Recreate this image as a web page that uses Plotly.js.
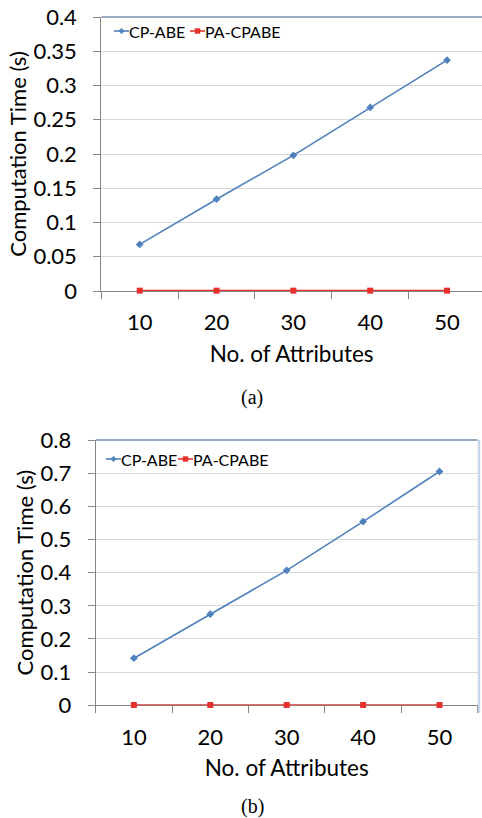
<!DOCTYPE html>
<html><head><meta charset="utf-8">
<script src="https://cdn.plot.ly/plotly-3.0.1.min.js"></script>
<style>html,body{margin:0;padding:0;background:#fff}#chart{width:482px;height:818px}</style>
</head><body><div id="chart"></div>
<script>
// ---- data ----
const attributes = ['10', '20', '30', '40', '50'];
const seriesNames = ['CP-ABE', 'PA-CPABE'];
const cpabeA = [0.068, 0.134, 0.198, 0.268, 0.337];
const pacpabeA = [0.0005, 0.0005, 0.0005, 0.0005, 0.0005];
const cpabeB = [0.142, 0.275, 0.407, 0.554, 0.705];
const pacpabeB = [0.001, 0.001, 0.001, 0.001, 0.001];
const yTicksA = [0, 0.05, 0.1, 0.15, 0.2, 0.25, 0.3, 0.35, 0.4];
const yTickTextA = ['0', '0.05', '0.1', '0.15', '0.2', '0.25', '0.3', '0.35', '0.4'];
const yTicksB = [0, 0.1, 0.2, 0.3, 0.4, 0.5, 0.6, 0.7, 0.8];
const yTickTextB = ['0', '0.1', '0.2', '0.3', '0.4', '0.5', '0.6', '0.7', '0.8'];
const captions = ['(a)', '(b)'];
const xTitle = 'No. of Attributes';
const yTitle = 'Computation Time (s)';

// ---- styles ----
const W = 482, H = 818;
const BLUE = '#4f81bd', RED = '#e5302b';
const FONT = 'Lato, Carlito, "Open Sans", sans-serif';
const px = x => x / W, py = y => 1 - y / H;

function line(x, y, name, color, symbol, size, xa, ya) {
  return {
    type: 'scatter', mode: 'lines+markers', x: x, y: y, name: name,
    xaxis: xa, yaxis: ya, cliponaxis: false, showlegend: false,
    line: {color: color, width: 1.6},
    marker: {color: color, symbol: symbol, size: size}
  };
}

const data = [
  line(attributes, cpabeA, seriesNames[0], BLUE, 'diamond', 6, 'x', 'y'),
  line(attributes, pacpabeA, seriesNames[1], RED, 'square', 6, 'x', 'y'),
  line(attributes, cpabeB, seriesNames[0], BLUE, 'diamond', 6, 'x2', 'y2'),
  line(attributes, pacpabeB, seriesNames[1], RED, 'square', 6, 'x2', 'y2')
];

function xaxis(domain, range) {
  return {
    type: 'category', domain: domain, range: range,
    showline: true, linecolor: '#868686', linewidth: 1, layer: 'below traces',
    showgrid: false, zeroline: false,
    ticks: 'outside', tickson: 'boundaries', ticklen: 7, tickcolor: '#868686',
    ticklabelstandoff: 12,
    tickfont: {family: FONT, size: 22, color: '#000'},
    title: {text: xTitle, font: {family: FONT, size: 22.5, color: '#000'}, standoff: 11},
    fixedrange: true
  };
}
function yaxis(domain, range, vals, text) {
  return {
    domain: domain, range: range, tickmode: 'array', tickvals: vals, ticktext: text,
    showline: true, linecolor: '#868686', linewidth: 1, layer: 'below traces',
    showgrid: true, gridcolor: '#d9d9d9', gridwidth: 1, zeroline: false,
    ticks: 'outside', ticklen: 7, tickcolor: '#868686',
    ticklabelstandoff: 12,
    tickfont: {family: FONT, size: 22, color: '#000'},
    title: {text: yTitle, font: {family: FONT, size: 22, color: '#000'}, standoff: 0},
    fixedrange: true
  };
}

const xa1 = xaxis([px(101.3), 1], [-0.5, 4.455]); xa1.anchor = 'y';
const ya1 = yaxis([py(291), py(17)], [0, 0.4], yTicksA, yTickTextA); ya1.anchor = 'x';
const xa2 = xaxis([px(95.7), px(477.7)], [-0.5, 4.5]); xa2.anchor = 'y2';
const ya2 = yaxis([py(705.3), py(440)], [0, 0.8], yTicksB, yTickTextB); ya2.anchor = 'x2';

const shapes = [
  {type: 'line', xref: 'x domain', yref: 'y domain', x0: 0, x1: 1, y0: 1, y1: 1,
   line: {color: '#7891ab', width: 1.5}},
  {type: 'line', xref: 'x2 domain', yref: 'y2 domain', x0: 0, x1: 1, y0: 1, y1: 1,
   line: {color: '#7891ab', width: 1.5}},
  {type: 'line', xref: 'paper', yref: 'paper', x0: px(479), x1: px(479), y0: py(440), y1: py(713),
   line: {color: '#c5d6ea', width: 2.5}}
];
const annotations = [];

// custom compact legends (Excel style): symbol start x per item
function legend(starts, yc, fontSize) {
  const items = [
    {name: seriesNames[0], color: BLUE, sym: 'diamond'},
    {name: seriesNames[1], color: RED, sym: 'square'}
  ];
  items.forEach((it, i) => {
    const x = starts[i];
    shapes.push({type: 'line', xref: 'paper', yref: 'paper', x0: px(x), x1: px(x + 15), y0: py(yc), y1: py(yc),
      line: {color: it.color, width: 1.6}});
    const cx = x + 7.5, r = 2.8;
    if (it.sym === 'diamond') {
      shapes.push({type: 'path', xref: 'paper', yref: 'paper',
        path: `M${px(cx)},${py(yc - r)} L${px(cx + r)},${py(yc)} L${px(cx)},${py(yc + r)} L${px(cx - r)},${py(yc)} Z`,
        fillcolor: it.color, line: {color: it.color, width: 0.5}});
    } else {
      shapes.push({type: 'rect', xref: 'paper', yref: 'paper', x0: px(cx - 2.7), x1: px(cx + 2.7), y0: py(yc + 2.7), y1: py(yc - 2.7),
        fillcolor: it.color, line: {width: 0}});
    }
    annotations.push({xref: 'paper', yref: 'paper', x: px(x + 13), y: py(yc), xanchor: 'left', yanchor: 'middle',
      text: it.name, showarrow: false, font: {family: FONT, size: fontSize, color: '#000'}});
  });
}
legend([114, 190], 31, 16);
legend([106, 178], 459, 16);

annotations.push({xref: 'paper', yref: 'paper', x: px(252), y: py(397), xanchor: 'center', yanchor: 'middle',
  text: captions[0], showarrow: false, font: {family: '"Liberation Serif", "Times New Roman", serif', size: 20, color: '#000'}});
annotations.push({xref: 'paper', yref: 'paper', x: px(252), y: py(806), xanchor: 'center', yanchor: 'middle',
  text: captions[1], showarrow: false, font: {family: '"Liberation Serif", "Times New Roman", serif', size: 20, color: '#000'}});

const layout = {
  width: W, height: H, margin: {l: 0, r: 0, t: 0, b: 0},
  paper_bgcolor: '#fff', plot_bgcolor: 'rgba(0,0,0,0)',
  showlegend: false,
  xaxis: xa1, yaxis: ya1, xaxis2: xa2, yaxis2: ya2,
  shapes: shapes, annotations: annotations
};

Plotly.newPlot('chart', data, layout, {displayModeBar: false, staticPlot: true});
</script>
</body></html>
